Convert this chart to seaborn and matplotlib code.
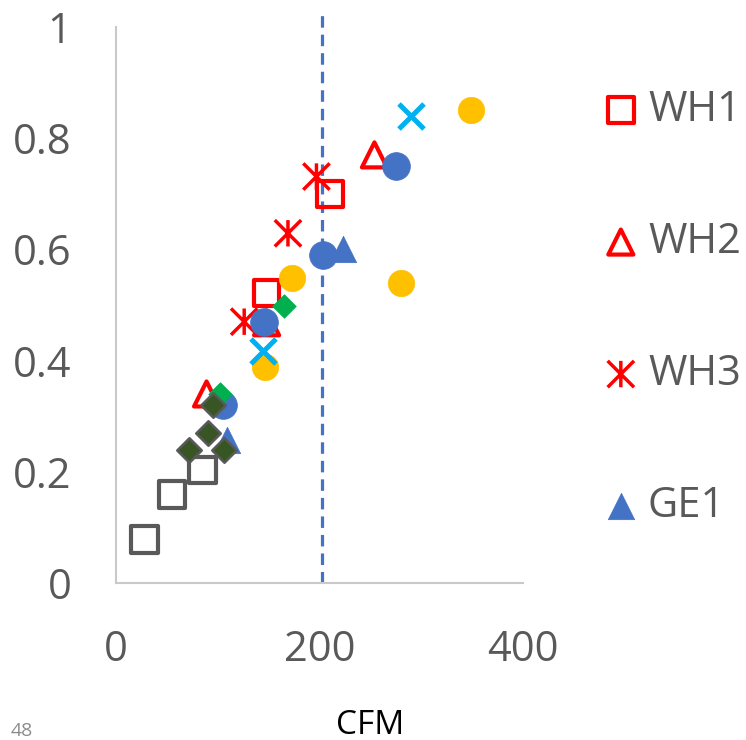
import matplotlib
matplotlib.use("Agg")
import matplotlib.pyplot as plt
from matplotlib.path import Path
import seaborn as sns

# ---- data ----
grey_x = [28, 55, 85]
grey_y = [0.078, 0.159, 0.203]

wh1_x = [210, 148]
wh1_y = [0.700, 0.522]

wh2_x = [254, 89, 148]
wh2_y = [0.770, 0.340, 0.468]

wh3_x = [197, 169, 126]
wh3_y = [0.731, 0.629, 0.470]

ge1_x = [223, 109]
ge1_y = [0.600, 0.257]

blue_x = [275, 203, 145, 105]
blue_y = [0.750, 0.590, 0.469, 0.320]

yellow_x = [349, 280, 173, 146]
yellow_y = [0.851, 0.540, 0.549, 0.389]

cyan_x = [290, 144]
cyan_y = [0.840, 0.418]

green_x = [165, 102]
green_y = [0.499, 0.340]

dkgreen_x = [95, 90, 72, 106]
dkgreen_y = [0.320, 0.269, 0.239, 0.239]

x_ticks = [0, 200, 400]
y_ticks = [0, 0.2, 0.4, 0.6, 0.8, 1]
y_tick_labels = ["0", "0.2", "0.4", "0.6", "0.8", "1"]
ref_cfm = 202

# ---- style ----
sns.set_style("white")
plt.rcParams["font.family"] = ["Open Sans", "DejaVu Sans"]

TXT = "#595959"
RED = "#FF0000"
BLUE = "#4472C4"

fig = plt.figure(figsize=(7.46, 7.40), dpi=100)
ax = fig.add_axes([116 / 746, 1 - 583 / 740, (523 - 116) / 746, (583 - 27) / 740])

asterisk = Path(
    [(0, -1), (0, 1), (-1, -1), (1, 1), (-1, 1), (1, -1)],
    [Path.MOVETO, Path.LINETO, Path.MOVETO, Path.LINETO, Path.MOVETO, Path.LINETO],
)

ax.axvline(ref_cfm, ymin=0, ymax=1.025, color=BLUE, lw=2.3,
           dashes=(3.6, 2.2), clip_on=False, zorder=1)

sns.scatterplot(x=grey_x, y=grey_y, marker="s", s=19 ** 2, facecolor="none",
                edgecolor=TXT, linewidth=3.0, ax=ax, legend=False, zorder=3)
sns.scatterplot(x=wh1_x, y=wh1_y, marker="s", s=18.5 ** 2, facecolor="none",
                edgecolor=RED, linewidth=3.0, ax=ax, legend=False, zorder=3,
                label="WH1")
sns.scatterplot(x=wh2_x, y=wh2_y, marker="^", s=18 ** 2, facecolor="none",
                edgecolor=RED, linewidth=3.0, ax=ax, legend=False, zorder=3,
                label="WH2")
sns.scatterplot(x=wh3_x, y=wh3_y, marker=asterisk, s=19 ** 2, facecolor="none",
                edgecolor=RED, linewidth=2.5, ax=ax, legend=False, zorder=3,
                label="WH3")
sns.scatterplot(x=ge1_x, y=ge1_y, marker="^", s=19 ** 2, color=BLUE,
                edgecolor=BLUE, linewidth=0.5, ax=ax, legend=False, zorder=3,
                label="GE1")
sns.scatterplot(x=blue_x, y=blue_y, marker="o", s=20 ** 2, color=BLUE,
                edgecolor=BLUE, linewidth=0.5, ax=ax, legend=False, zorder=3)
sns.scatterplot(x=yellow_x, y=yellow_y, marker="o", s=19 ** 2, color="#FFC000",
                edgecolor="#FFC000", linewidth=0.5, ax=ax, legend=False, zorder=3)
sns.scatterplot(x=cyan_x, y=cyan_y, marker="x", s=18 ** 2, color="#00B0F0",
                linewidth=3.6, ax=ax, legend=False, zorder=3)
sns.scatterplot(x=green_x, y=green_y, marker="D", s=12 ** 2, color="#00B050",
                edgecolor="#00B050", linewidth=0.5, ax=ax, legend=False, zorder=3)
sns.scatterplot(x=dkgreen_x, y=dkgreen_y, marker="D", s=12.5 ** 2, color="#375623",
                edgecolor=TXT, linewidth=1.8, ax=ax, legend=False, zorder=3)

ax.set_xlim(0, 400)
ax.set_ylim(0, 1)
ax.set_xticks(x_ticks)
ax.set_xticklabels([str(v) for v in x_ticks])
ax.set_yticks(y_ticks)
ax.set_yticklabels(y_tick_labels)
ax.set_xlabel("")
ax.set_ylabel("")
ax.tick_params(axis="both", length=0, labelsize=30, labelcolor=TXT)
ax.tick_params(axis="y", pad=32)
ax.tick_params(axis="x", pad=33)

for side in ["top", "right"]:
    ax.spines[side].set_visible(False)
for side in ["left", "bottom"]:
    ax.spines[side].set_color("#C9C9C9")
    ax.spines[side].set_linewidth(1.5)
ax.grid(False)

handles, labels = ax.get_legend_handles_labels()
keep = [(h, l) for h, l in zip(handles, labels) if l in ("WH1", "WH2", "WH3", "GE1")]
leg = fig.legend([h for h, _ in keep], [l for _, l in keep],
                 loc="center left", bbox_to_anchor=(600 / 746, 1 - 308 / 740),
                 frameon=False, fontsize=30, labelcolor=TXT,
                 handlelength=1.0, handletextpad=0.15, labelspacing=2.16,
                 borderpad=0, borderaxespad=0)

fig.text(370 / 746, 1 - 725 / 740, "CFM", ha="center", va="center",
         fontsize=24, color="black")
fig.text(22 / 746, 1 - 731 / 740, "48", ha="center", va="center",
         fontsize=14, color="#8C8C8C")

fig.savefig("out.png", dpi=100)
